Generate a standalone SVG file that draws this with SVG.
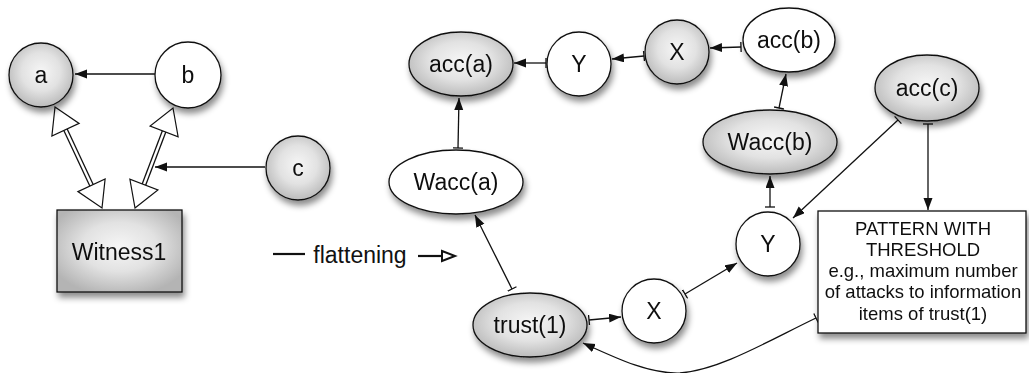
<svg xmlns="http://www.w3.org/2000/svg" width="1029" height="373" viewBox="0 0 1029 373">
<style>
.g{fill:url(#gr);stroke:#111;stroke-width:1.3}
.w{fill:#fff;stroke:#111;stroke-width:1.3}
.t{font-family:"Liberation Sans",Arial,sans-serif;font-size:23px;fill:#111;text-anchor:middle}
.bt{font-family:"Liberation Sans",Arial,sans-serif;font-size:18.5px;fill:#111;text-anchor:middle}
.e{fill:none;stroke:#111;stroke-width:1.3;marker-end:url(#ah);marker-start:url(#bar)}
.h{fill:#fff;stroke:#111;stroke-width:1.2}
</style>
<defs>
<radialGradient id="gr" cx="50%" cy="45%" r="60%">
<stop offset="0" stop-color="#f6f6f6"/>
<stop offset="0.5" stop-color="#e2e2e2"/>
<stop offset="1" stop-color="#b4b4b4"/>
</radialGradient>
<filter id="sh" x="-20%" y="-20%" width="150%" height="160%">
<feDropShadow dx="2" dy="5" stdDeviation="3" flood-color="#000" flood-opacity="0.45"/>
</filter>
<marker id="ah" markerUnits="userSpaceOnUse" markerWidth="14" markerHeight="10" refX="12" refY="4.5" orient="auto">
<path d="M0,0 L12,4.5 L0,9 z" fill="#111"/>
</marker>
<marker id="bar" markerUnits="userSpaceOnUse" markerWidth="4" markerHeight="12" refX="1" refY="5" orient="auto">
<path d="M1,0 L1,10" stroke="#111" stroke-width="1.3"/>
</marker>
</defs>
<g id="connectors">
<line x1="155" y1="74" x2="75" y2="74" fill="none" stroke="#111" stroke-width="1.3" marker-end="url(#ah)"/>
<line x1="265" y1="167" x2="155" y2="167" fill="none" stroke="#111" stroke-width="1.3" marker-end="url(#ah)"/>
<g id="double-a">
<line x1="65.5" y1="129.7" x2="91.5" y2="185.3" stroke="#111" stroke-width="5"/>
<line x1="65.5" y1="129.7" x2="91.5" y2="185.3" stroke="#fff" stroke-width="2.4"/>
<polygon class="h" points="55,107 79.1,123.4 51.9,136"/>
<polygon class="h" points="102,208 105.1,179 77.9,191.6"/>
</g>
<g id="double-b">
<line x1="164.1" y1="131.4" x2="143.9" y2="184.6" stroke="#111" stroke-width="5"/>
<line x1="164.1" y1="131.4" x2="143.9" y2="184.6" stroke="#fff" stroke-width="2.4"/>
<polygon class="h" points="173,108 178.1,136.7 150.1,126.1"/>
<polygon class="h" points="135,208 157.9,189.9 129.9,179.3"/>
</g>
<line x1="273" y1="254" x2="305" y2="254" stroke="#111" stroke-width="2.2"/>
<line x1="418" y1="256" x2="442" y2="256" stroke="#111" stroke-width="2.2"/>
<polygon points="442,251 455,256 442,261" fill="#fff" stroke="#111" stroke-width="2"/>
<path class="e" d="M546,63 L514,63"/>
<path class="e" d="M644,56 L612,59"/>
<path class="e" d="M741,47 L710,48"/>
<path class="e" d="M779,108 L786,74"/>
<path class="e" d="M770,207 L770,176"/>
<path class="e" d="M898,120 L793,218"/>
<path class="e" d="M928,124 L928,210"/>
<path class="e" d="M458,148 L459,98"/>
<path class="e" d="M512,289 L475,215"/>
<path class="e" d="M589,320 L621,317"/>
<path class="e" d="M685,294 L737,263"/>
<path class="e" d="M816,318 C770,340 720,370 680,373 C650,374 620,360 583,343"/>
</g>
<g id="a" filter="url(#sh)"><circle class="g" cx="41" cy="75" r="32"/><text class="t" x="41" y="83">a</text></g>
<g id="b" filter="url(#sh)"><circle class="w" cx="188" cy="75" r="33"/><text class="t" x="188" y="83">b</text></g>
<g id="c" filter="url(#sh)"><circle class="g" cx="298" cy="168" r="32"/><text class="t" x="298" y="176">c</text></g>
<g id="witness1" filter="url(#sh)"><rect class="g" x="57" y="210" width="125" height="82"/><text class="t" x="119" y="260">Witness1</text></g>
<g id="flattening"><text class="t" x="360" y="263">flattening</text></g>
<g id="acc_a" filter="url(#sh)"><ellipse class="g" cx="461" cy="64" rx="52" ry="32"/><text class="t" x="461" y="72">acc(a)</text></g>
<g id="Y1" filter="url(#sh)"><circle class="w" cx="579" cy="64" r="32"/><text class="t" x="579" y="72">Y</text></g>
<g id="X1" filter="url(#sh)"><circle class="g" cx="677" cy="52" r="32"/><text class="t" x="677" y="60">X</text></g>
<g id="acc_b" filter="url(#sh)"><ellipse class="w" cx="789" cy="40" rx="46" ry="32"/><text class="t" x="789" y="48">acc(b)</text></g>
<g id="Wacc_b" filter="url(#sh)"><ellipse class="g" cx="770" cy="142" rx="67" ry="32"/><text class="t" x="770" y="150">Wacc(b)</text></g>
<g id="acc_c" filter="url(#sh)"><ellipse class="g" cx="927" cy="88" rx="52" ry="33"/><text class="t" x="927" y="96">acc(c)</text></g>
<g id="Wacc_a" filter="url(#sh)"><ellipse class="w" cx="456" cy="182" rx="67" ry="32"/><text class="t" x="456" y="190">Wacc(a)</text></g>
<g id="Y2" filter="url(#sh)"><circle class="w" cx="768" cy="244" r="32"/><text class="t" x="768" y="252">Y</text></g>
<g id="trust1" filter="url(#sh)"><ellipse class="g" cx="530" cy="325" rx="57" ry="32"/><text class="t" x="530" y="333">trust(1)</text></g>
<g id="X2" filter="url(#sh)"><circle class="w" cx="654" cy="311" r="32"/><text class="t" x="654" y="319">X</text></g>
<g id="pattern" filter="url(#sh)"><rect class="w" x="818" y="211" width="208" height="122"/>
<text class="bt" x="923" y="235">PATTERN WITH</text>
<text class="bt" x="923" y="256">THRESHOLD</text>
<text class="bt" x="923" y="277">e.g., maximum number</text>
<text class="bt" x="923" y="298">of attacks to information</text>
<text class="bt" x="923" y="320">items of trust(1)</text>
</g>
</svg>
